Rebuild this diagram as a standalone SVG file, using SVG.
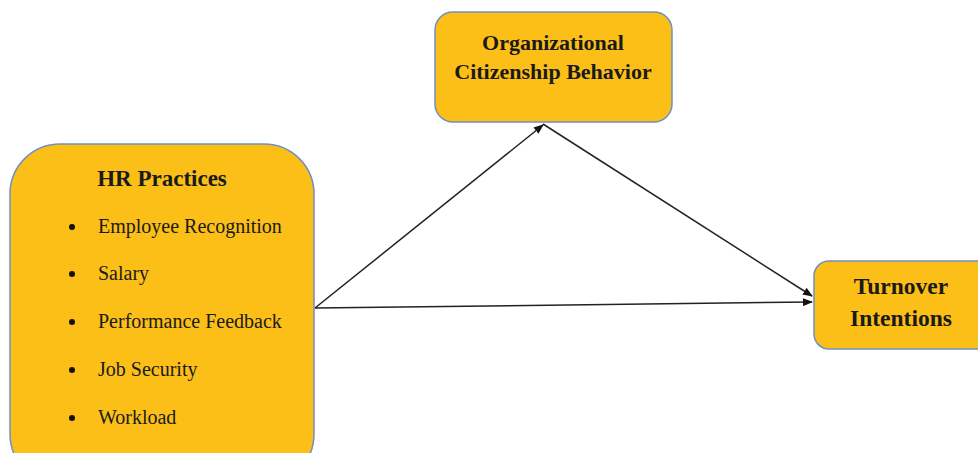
<svg xmlns="http://www.w3.org/2000/svg" width="978" height="453" viewBox="0 0 978 453">
<style>
.box{fill:#FBBF17;stroke:#7090C0;stroke-width:1.5}
.t{font-family:"Liberation Serif",serif;fill:#1a1a1a}
.b{font-weight:bold}
.h{font-size:22px}
.h2{font-size:23.5px}
.i{font-size:20px}
.c{stroke:#222;stroke-width:1.5;fill:none;marker-end:url(#ah)}
</style>
<defs>
<marker id="ah" markerWidth="10" markerHeight="8" refX="9" refY="4" orient="auto" markerUnits="userSpaceOnUse">
<path d="M0,0 L10,4 L0,8 Z" fill="#111"/>
</marker>
</defs>
<rect width="978" height="453" fill="#fff"/>
<g id="connectors">
<line class="c" x1="315" y1="308" x2="543" y2="125"/>
<line class="c" x1="315" y1="308" x2="812" y2="302"/>
<line class="c" x1="543" y1="124" x2="812" y2="296"/>
</g>
<g id="hr">
<rect class="box" x="10" y="144" width="304" height="340" rx="50" ry="50"/>
<text class="t b" x="162" y="186" font-size="23" text-anchor="middle">HR Practices</text>
<g class="t i">
<circle cx="72" cy="227" r="3" fill="#111"/>
<text x="98" y="233">Employee Recognition</text>
<circle cx="72" cy="274" r="3" fill="#111"/>
<text x="98" y="280">Salary</text>
<circle cx="72" cy="322" r="3" fill="#111"/>
<text x="98" y="328">Performance Feedback</text>
<circle cx="72" cy="370" r="3" fill="#111"/>
<text x="98" y="376">Job Security</text>
<circle cx="72" cy="418" r="3" fill="#111"/>
<text x="98" y="424">Workload</text>
</g>
</g>
<g id="ocb">
<rect class="box" x="435" y="12" width="237" height="110" rx="18" ry="18"/>
<text class="t b h" x="553" y="50" text-anchor="middle">Organizational</text>
<text class="t b h" x="553" y="79" text-anchor="middle">Citizenship Behavior</text>
</g>
<g id="ti">
<rect class="box" x="814" y="261" width="180" height="88" rx="15" ry="15"/>
<text class="t b h2" x="901" y="294" text-anchor="middle">Turnover</text>
<text class="t b h2" x="901" y="326" text-anchor="middle">Intentions</text>
</g>
</svg>
